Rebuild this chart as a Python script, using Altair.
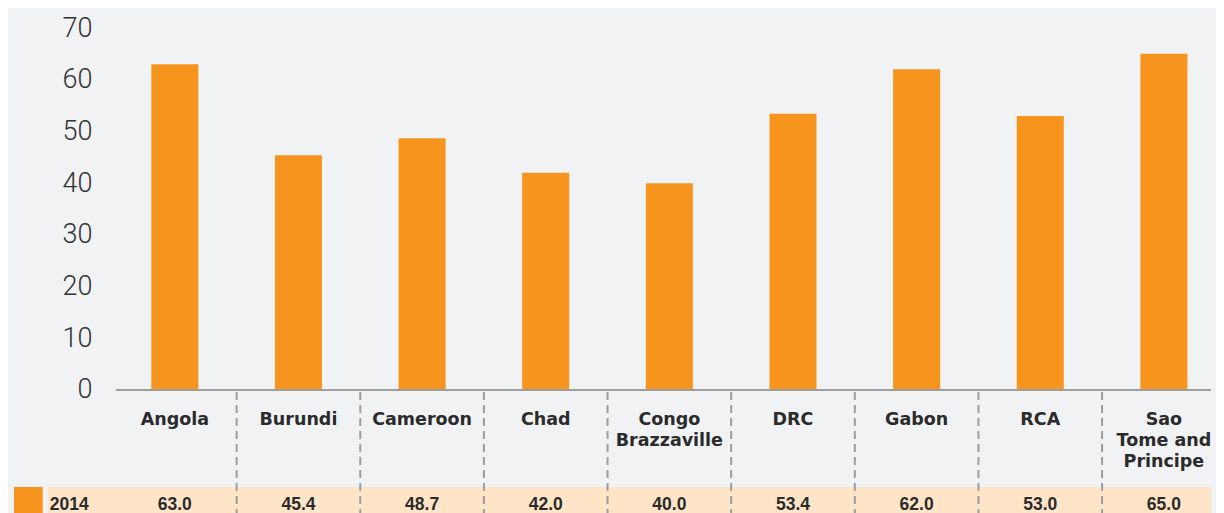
import altair as alt
import pandas as pd

countries = ["Angola", "Burundi", "Cameroon", "Chad", "Congo\nBrazzaville",
             "DRC", "Gabon", "RCA", "Sao\nTome and\nPrincipe"]
values_2014 = [63.0, 45.4, 48.7, 42.0, 40.0, 53.4, 62.0, 53.0, 65.0]
year_label = "2014"
y_ticks = [0, 10, 20, 30, 40, 50, 60, 70]

ORANGE = "#f7941e"
BG = "#f1f2f4"
PEACH = "#fee5c8"
GRID = "#9d9d9d"
TEXT = "#2b2b2b"

X_MAX = 8.881
Y_MIN = -23.785
ROW_TOP = -18.76
ROW_TEXT_Y = -23.2

df = pd.DataFrame({
    "country": countries,
    "value": values_2014,
    "pos": [i + 0.5 for i in range(len(countries))],
})
df["label"] = df["value"].map(lambda v: f"{v:.1f}")
df["label_y"] = -6.77
df["table_y"] = ROW_TEXT_Y

seps = pd.DataFrame({"x": list(range(1, len(countries))), "y": -0.39, "y2": Y_MIN})
base_line = pd.DataFrame({"x": [0.025], "x2": [X_MAX], "y": [0.0]})
band = pd.DataFrame({"x": [-0.528], "x2": [X_MAX], "y": [ROW_TOP], "y2": [Y_MIN]})
square = pd.DataFrame({"x": [-0.801], "x2": [-0.568], "y": [ROW_TOP], "y2": [Y_MIN]})
year_df = pd.DataFrame({"x": [-0.512], "y": [ROW_TEXT_Y], "t": [year_label]})

xs = alt.Scale(domain=[0, X_MAX], nice=False, zero=False)
ys = alt.Scale(domain=[Y_MIN, 70], nice=False, zero=False)

band_layer = alt.Chart(band).mark_rect(color=PEACH).encode(
    x=alt.X("x:Q", scale=xs, axis=None), x2="x2:Q",
    y=alt.Y("y:Q", scale=ys, axis=alt.Axis(values=y_ticks, domain=False, ticks=False,
                                           grid=False, labelFontSize=27,
                                           labelFont="Roboto", labelFontWeight=300,
                                           labelColor="#333333", labelPadding=16,
                                           title=None)),
    y2="y2:Q",
)
square_layer = alt.Chart(square).mark_rect(color=ORANGE).encode(
    x="x:Q", x2="x2:Q", y="y:Q", y2="y2:Q")

bars = alt.Chart(df).mark_bar(color=ORANGE, size=47).encode(
    x="pos:Q", y="value:Q")

base_rule = alt.Chart(base_line).mark_rule(color=GRID, strokeWidth=2).encode(
    x="x:Q", x2="x2:Q", y="y:Q")

sep_rules = alt.Chart(seps).mark_rule(color=GRID, strokeWidth=2, strokeDash=[8, 5]).encode(
    x="x:Q", y="y:Q", y2="y2:Q")

cat_text = alt.Chart(df).mark_text(
    font="DejaVu Sans", fontWeight="bold", fontSize=17.5, color=TEXT,
    align="center", baseline="alphabetic", lineBreak="\n", lineHeight=21,
).encode(x="pos:Q", y="label_y:Q", text="country:N")

val_text = alt.Chart(df).mark_text(
    font="Liberation Sans", fontWeight="bold",
    fontSize=17.5, color=TEXT, align="center", baseline="alphabetic",
).encode(x="pos:Q", y="table_y:Q", text="label:N")

year_text = alt.Chart(year_df).mark_text(
    font="Liberation Sans", fontWeight="bold",
    fontSize=17.5, color=TEXT, align="left", baseline="alphabetic",
).encode(x="x:Q", y="y:Q", text="t:N")

chart = alt.layer(
    band_layer, square_layer, sep_rules, bars, base_rule, cat_text, val_text, year_text
).properties(
    width=1108, height=485,
    autosize=alt.AutoSizeParams(type="none"),
    padding={"left": 100, "top": 20, "right": 0, "bottom": 0},
    background=BG,
).configure_view(stroke=None)

chart.save("out.html", embed_options={"renderer": "svg", "actions": False})
